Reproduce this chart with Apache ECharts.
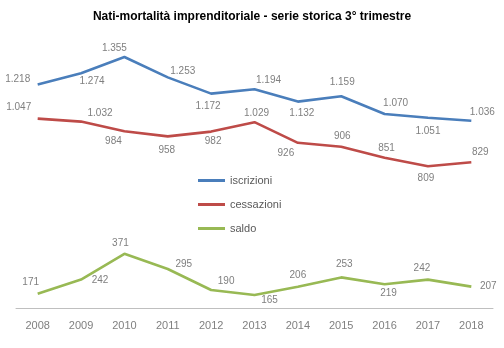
<!DOCTYPE html>
<html><head><meta charset="utf-8">
<script src="https://cdn.jsdelivr.net/npm/echarts@6/dist/echarts.min.js"></script>
<style>html,body{margin:0;padding:0;background:#fff}#c{width:504px;height:348px}</style>
</head><body><div id="c"></div>
<script>
const years = ['2008','2009','2010','2011','2012','2013','2014','2015','2016','2017','2018'];
const iscrizioni = [1218,1274,1355,1253,1172,1194,1132,1159,1070,1051,1036];
const cessazioni = [1047,1032,984,958,982,1029,926,906,851,809,829];
const saldo = [171,242,371,295,190,165,206,253,219,242,207];

// label placement offsets (label centre relative to point)
const isOff = [[-20,-5],[11,8],[-10,-9],[15,-6],[-3,13],[14,-9],[4,12],[1,-14],[11,-11],[0,13],[11,-9]];
const ceOff = [[-19,-11],[19,-8],[-11,10],[-1,14],[2,10],[2,-9],[-12,10],[1,-11],[2,-10],[-2,12],[9,-10]];
const saOff = [[-7,-12],[19,1],[-4,-11],[16,-5],[15,-9],[15,5],[0,-12],[3,-13],[4,9],[-6,-11],[17,0]];

function fmt(v){ return String(v).replace(/\B(?=(\d{3})+(?!\d))/g,'.'); }
const font = 'Liberation Sans';
function mk(name, vals, offs, color){
  return {
    name, type:'line', color,
    symbol:'circle', symbolSize:0.1, showSymbol:true,
    lineStyle:{width:2.6,color}, itemStyle:{color},
    data: vals.map((v,i)=>({value:v,label:{offset:offs[i]}})),
    label:{show:true,position:'inside',color:'#7f7f7f',fontSize:10,fontFamily:font,formatter:p=>fmt(p.value)},
    emphasis:{disabled:true}, animation:false
  };
}
const chart = echarts.init(document.getElementById('c'));
chart.setOption({
  animation:false,
  title:{text:'Nati-mortalità imprenditoriale - serie storica 3° trimestre',left:'center',top:6,
    textStyle:{fontSize:12,fontWeight:'bold',color:'#000',fontFamily:font}},
  legend:{orient:'vertical',left:193,top:170,itemWidth:27,itemHeight:3,itemGap:13,icon:'rect',
    textStyle:{fontSize:11,color:'#595959',fontFamily:font},
    data:['iscrizioni','cessazioni','saldo']},
  grid:{left:16,right:11,top:28,bottom:40},
  xAxis:{type:'category',data:years,boundaryGap:true,
    axisLine:{lineStyle:{color:'#bfbfbf'}},axisTick:{length:4,lineStyle:{color:'#bfbfbf'}},
    axisLabel:{color:'#808080',fontSize:11,fontFamily:font,margin:12}},
  yAxis:{type:'value',min:100,max:1500,show:false,splitLine:{show:false}},
  series:[mk('iscrizioni',iscrizioni,isOff,'#4a7ebb'),mk('cessazioni',cessazioni,ceOff,'#be4b48'),mk('saldo',saldo,saOff,'#98b954')]
});
</script></body></html>
